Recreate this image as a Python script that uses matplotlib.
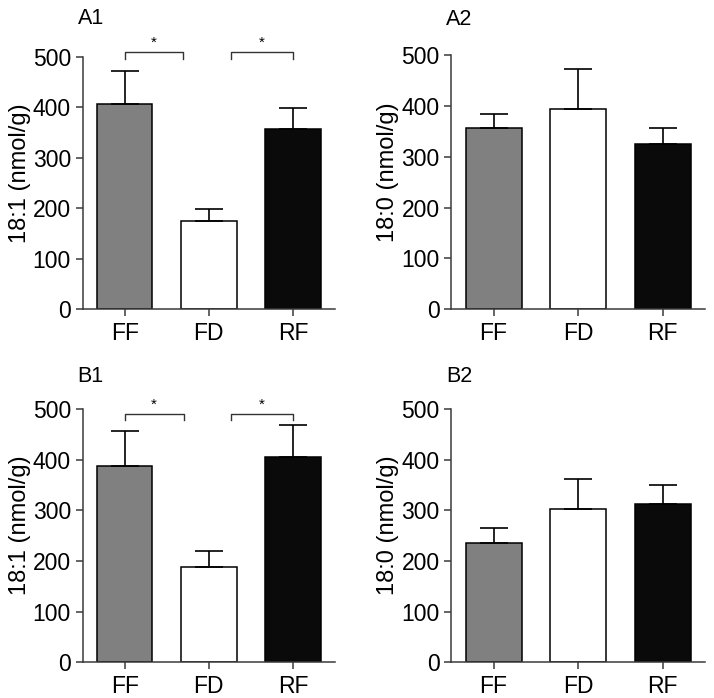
import matplotlib.pyplot as plt

plt.rcParams['font.family'] = ['Liberation Sans', 'DejaVu Sans']

# ----------------------------
# Data
# ----------------------------
groups = ['FF', 'FD', 'RF']
bar_colors = ['#808080', '#ffffff', '#0a0a0a']

a1_mean = [406, 175, 357]
a1_err = [66, 24, 41]
a2_mean = [357, 395, 325]
a2_err = [28, 77, 32]
b1_mean = [387, 188, 405]
b1_err = [70, 32, 63]
b2_mean = [236, 302, 313]
b2_err = [29, 59, 37]

# significance brackets: (x start, x end, top, drop)
a1_brackets = [(0, 0.69, 510, 495), (1.26, 2.0, 510, 495)]
b1_brackets = [(0, 0.70, 491, 478), (1.26, 2.0, 491, 478)]

panels = [
    ('A1', '18:1 (nmol/g)', a1_mean, a1_err, a1_brackets, [0.1158, 0.5569, 0.3534, 0.3619], 1.11),
    ('A2', '18:0 (nmol/g)', a2_mean, a2_err, [], [0.6321, 0.5569, 0.3553, 0.3640], 1.10),
    ('B1', '18:1 (nmol/g)', b1_mean, b1_err, b1_brackets, [0.1158, 0.0511, 0.3534, 0.3630], 1.085),
    ('B2', '18:0 (nmol/g)', b2_mean, b2_err, [], [0.6321, 0.0511, 0.3553, 0.3630], 1.085),
]

spine_col = '#3a3a3a'

fig = plt.figure(figsize=(7.14, 6.98), dpi=100)

for name, ylab, mean, err, brackets, rect, label_y in panels:
    ax = fig.add_axes(rect)
    x = range(len(groups))
    ax.bar(x, mean, width=0.66, color=bar_colors, edgecolor='black', linewidth=1.1, zorder=2)
    ax.errorbar(x, mean, yerr=[[0] * len(err), err], fmt='none', ecolor='black',
                elinewidth=1.2, capsize=10, capthick=1.2, zorder=3)

    ax.set_xlim(-0.5, 2.5)
    ax.set_ylim(0, 500)
    ax.set_yticks([0, 100, 200, 300, 400, 500])
    ax.set_xticks(list(x))
    ax.set_xticklabels(groups)
    ax.tick_params(axis='both', labelsize=16.5, length=5, width=1.1, color=spine_col)
    ax.tick_params(axis='x', pad=4)
    for s in ['top', 'right']:
        ax.spines[s].set_visible(False)
    for s in ['left', 'bottom']:
        ax.spines[s].set_color(spine_col)
        ax.spines[s].set_linewidth(1.1)

    ax.set_ylabel(ylab, fontsize=17)
    ax.yaxis.set_label_coords(-0.205, 0.54)

    for x0, x1, top, drop in brackets:
        ax.plot([x0, x0, x1, x1], [drop, top, top, drop], color='#333333',
                linewidth=1.0, clip_on=False)
        ax.text((x0 + x1) / 2, top + 4, '*', ha='center', va='bottom', fontsize=11)

    ax.text(-0.02, label_y, name, transform=ax.transAxes, fontsize=15.5, ha='left', va='bottom')

plt.savefig('out.png', dpi=100)
